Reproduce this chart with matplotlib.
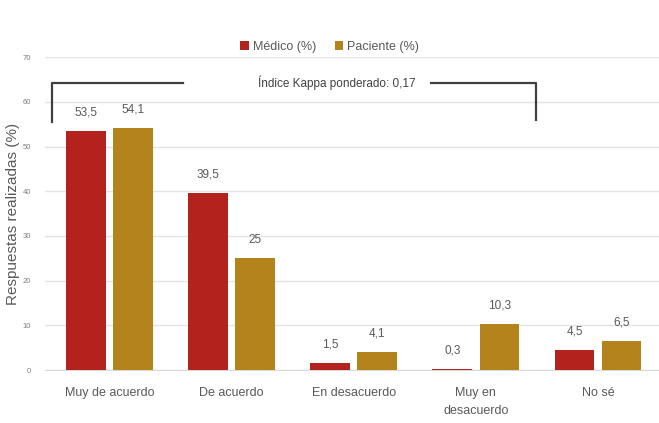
import numpy as np
import matplotlib
matplotlib.use('Agg')
import matplotlib.pyplot as plt

plt.rcParams['font.family'] = ['Liberation Sans Narrow', 'Liberation Sans', 'DejaVu Sans']

categories = ['Muy de acuerdo', 'De acuerdo', 'En desacuerdo', 'Muy en\ndesacuerdo', 'No sé']
medico = [53.5, 39.5, 1.5, 0.3, 4.5]
paciente = [54.1, 25, 4.1, 10.3, 6.5]
medico_labels = ['53,5', '39,5', '1,5', '0,3', '4,5']
paciente_labels = ['54,1', '25', '4,1', '10,3', '6,5']
kappa_text = 'Índice Kappa ponderado: 0,17'

red = '#b4221e'
gold = '#b5831c'
text_gray = '#595959'

fig = plt.figure(figsize=(6.59, 4.23), dpi=100)
ax = fig.add_axes([0.068, 0.125, 0.932, 0.74])

x = np.arange(len(categories))
w = 0.325
gap = 0.03
ax.bar(x - w / 2 - gap, medico, w, color=red, label='Médico (%)', zorder=3)
ax.bar(x + w / 2 + gap, paciente, w, color=gold, label='Paciente (%)', zorder=3)

for i in range(len(categories)):
    ax.text(x[i] - w / 2 - gap, medico[i] + 2.8, medico_labels[i], ha='center', va='bottom',
            fontsize=8.5, color=text_gray)
    ax.text(x[i] + w / 2 + gap, paciente[i] + 2.8, paciente_labels[i], ha='center', va='bottom',
            fontsize=8.5, color=text_gray)

ax.set_xlim(-0.53, 4.5)
ax.set_ylim(0, 70)
ax.set_yticks(np.arange(0, 71, 10))
ax.set_xticks(x)
ax.set_xticklabels(categories, fontsize=9, color=text_gray, linespacing=1.7)
ax.tick_params(axis='y', labelsize=5.5, colors='#7f7f7f', length=0, pad=10)
ax.tick_params(axis='x', length=0, pad=12)
ax.grid(axis='y', color='#e3e3e3', linewidth=1, zorder=0)
for s in ['top', 'right', 'left']:
    ax.spines[s].set_visible(False)
ax.spines['bottom'].set_color('#d9d9d9')
ax.set_ylabel('Respuestas realizadas (%)', fontsize=11, color=text_gray,
              family=['Liberation Sans', 'DejaVu Sans'], labelpad=2)

# bracket with kappa annotation
ax.plot([-0.47, -0.47, 0.6], [55.5, 64.3, 64.3], color='#404040', lw=1.6, zorder=4)
ax.plot([2.63, 3.49, 3.49], [64.3, 64.3, 56.0], color='#404040', lw=1.6, zorder=4)
ax.text(1.86, 64.3, kappa_text, ha='center', va='center', fontsize=8.5, color='#404040')

leg = fig.legend(loc='upper center', bbox_to_anchor=(0.5, 0.93), ncol=2, frameon=False,
                 fontsize=9, handlelength=0.7, handleheight=0.7, handletextpad=0.3,
                 columnspacing=1.5)
for t in leg.get_texts():
    t.set_color(text_gray)

fig.savefig('out.png', dpi=100)
